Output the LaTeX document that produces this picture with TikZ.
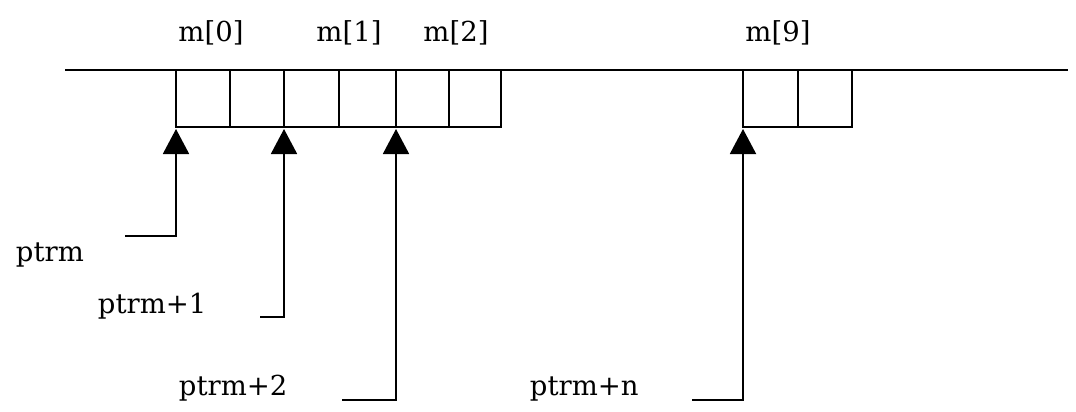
\documentclass[tikz,border=0pt]{standalone}
\usepackage{fontspec}
\setmainfont{DejaVu Serif}
\usetikzlibrary{arrows.meta}
\begin{document}
\begin{tikzpicture}[x=1pt,y=-1pt,
  line width=1.9pt,
  lbl/.style={inner sep=0pt,font=\fontsize{27.5}{32}\selectfont},
  ptr/.style={-{Triangle[width=26pt,length=25pt]}},
  cellbox/.style={draw,line width=1.9pt}]
\useasboundingbox (0,0) rectangle (1076,412);
% memory line
\coordinate (L) at (65,70);
\coordinate (R) at (1068,70);
\draw (L) -- (R);
% cells m[0..2]
\foreach \a/\b in {176/230,230/284,284/339,339/396,396/449,449/501}
  \draw[cellbox] (\a,70) rectangle (\b,127);
% cells m[9]
\foreach \a/\b in {743/798,798/852}
  \draw[cellbox] (\a,70) rectangle (\b,127);
% labels above
\node[lbl,anchor=base] (m0) at (211,42) {m[0]};
\node[lbl,anchor=base] (m1) at (349,42) {m[1]};
\node[lbl,anchor=base] (m2) at (456,42) {m[2]};
\node[lbl,anchor=base] (m9) at (778,42) {m[9]};
% pointer labels
\node[lbl,anchor=base west] (p0) at (15,261) {ptrm};
\node[lbl,anchor=base west] (p1) at (97,313) {ptrm+1};
\node[lbl,anchor=base west] (p2) at (178,395) {ptrm+2};
\node[lbl,anchor=base west] (pn) at (529,395) {ptrm+n};
% pointer targets and starts
\coordinate (t0) at (176,129);
\coordinate (t1) at (284,129);
\coordinate (t2) at (396,129);
\coordinate (tn) at (743,129);
\coordinate (s0) at (125,236);
\coordinate (s1) at (260,317);
\coordinate (s2) at (342,400);
\coordinate (sn) at (692,400);
\draw[ptr] (s0) -| (t0);
\draw[ptr] (s1) -| (t1);
\draw[ptr] (s2) -| (t2);
\draw[ptr] (sn) -| (tn);
\end{tikzpicture}
\end{document}
